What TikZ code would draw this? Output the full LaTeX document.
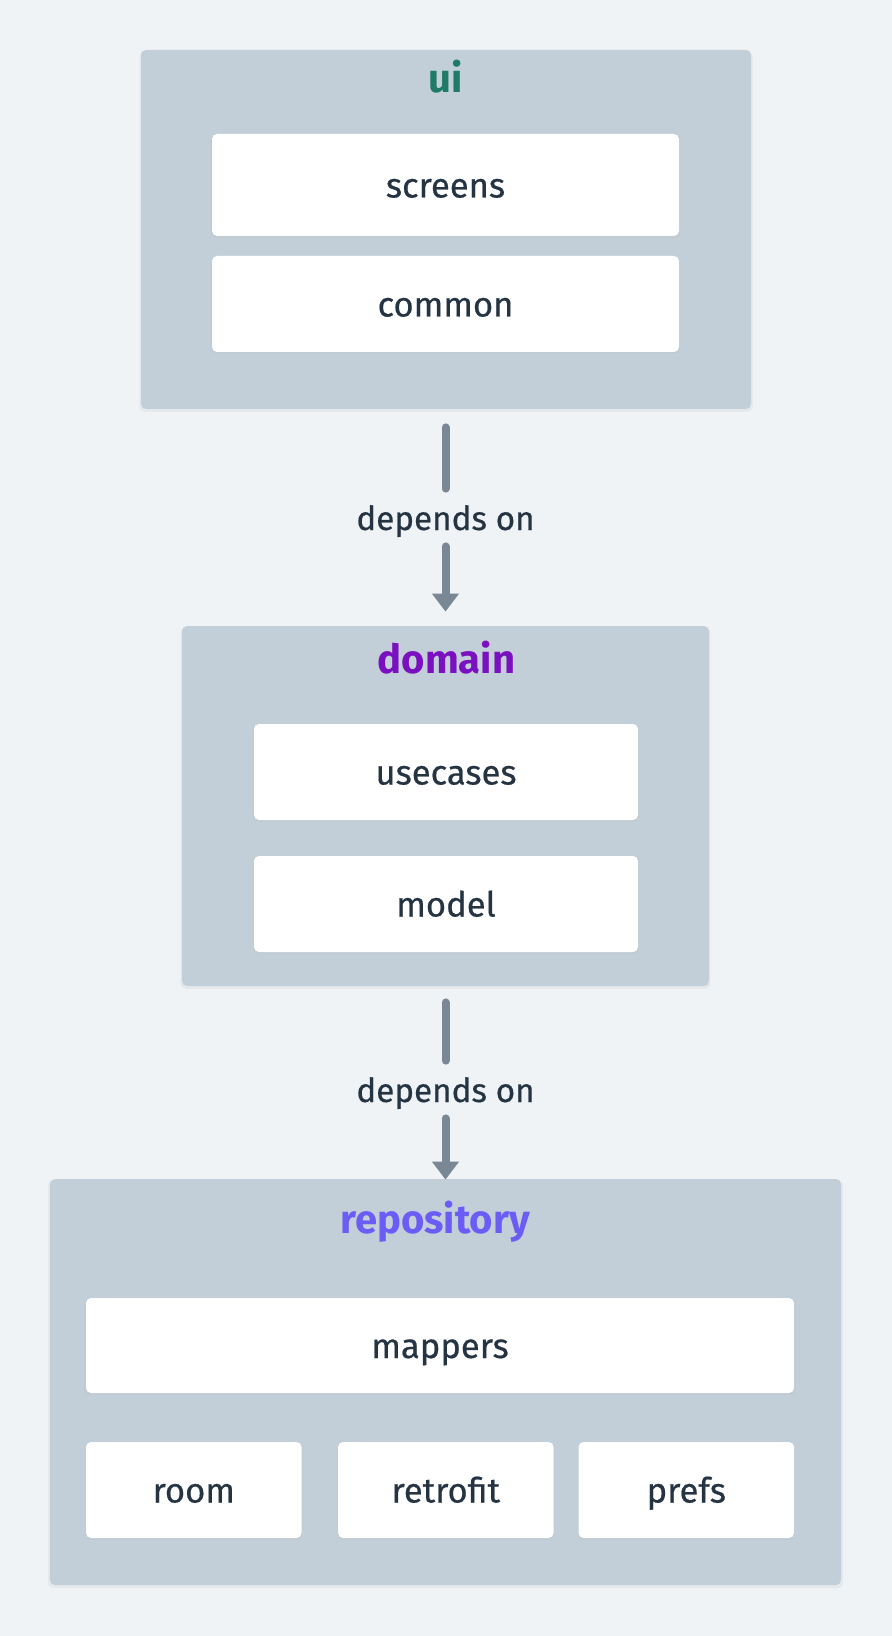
\documentclass[tikz,border=0pt]{standalone}
\usepackage{fontspec}
\setmainfont{Fira Sans}
\newfontfamily\medfont{Fira Sans}[FakeBold=0.5]
\usetikzlibrary{arrows.meta,shadows}
\definecolor{bgc}{HTML}{EFF3F6}
\definecolor{boxc}{HTML}{C3CFD8}
\definecolor{txtc}{HTML}{253443}
\definecolor{arrowc}{HTML}{7A8896}
\definecolor{uic}{HTML}{1F7A67}
\definecolor{domc}{HTML}{7B10C0}
\definecolor{repc}{HTML}{6B5CF5}
\begin{document}
\begin{tikzpicture}[x=0.5pt,y=-0.5pt,
  layerbox/.style={fill=boxc, rounded corners=2.5pt, inner sep=0pt, draw=none,
    drop shadow={opacity=0.08, shadow xshift=0pt, shadow yshift=-1pt, shadow scale=1.005}},
  itembox/.style={fill=white, rounded corners=2.5pt, inner sep=0pt, text=txtc,
    font=\medfont\fontsize{17.3}{20}\selectfont, text height=16pt, text depth=3.5pt,
    drop shadow={opacity=0.05, shadow xshift=0pt, shadow yshift=-0.75pt, shadow scale=1.005}},
  ttl/.style={anchor=base, inner sep=0pt, font=\fontsize{20}{22}\selectfont\bfseries},
  lbl/.style={inner sep=0pt, text=txtc, font=\medfont\fontsize{16.6}{20}\selectfont,
    text height=16pt, text depth=3.5pt, minimum height=28.5pt},
  conn/.style={draw=arrowc, line width=4pt, line cap=round},
  tipped/.style={conn, -{Triangle[width=13pt,length=9pt]}}
]
\fill[bgc] (0,0) rectangle (892,1636);
\useasboundingbox (0,0) rectangle (892,1636);

% ui layer
\node[layerbox, minimum width=305pt, minimum height=179.5pt] (ui) at (446,229.5) {};
\node[ttl, text=uic] (uit) at (446,93) {ui};
\node[itembox, minimum width=233.5pt, minimum height=51pt] (screens) at (445.5,185) {screens};
\node[itembox, minimum width=233.5pt, minimum height=48pt] (common) at (445.5,304) {common};

% domain layer
\node[layerbox, minimum width=263.5pt, minimum height=180pt] (domain) at (445.5,806) {};
\node[ttl, text=domc] (domt) at (446.5,673) {domain};
\node[itembox, minimum width=192pt, minimum height=48pt] (usecases) at (446,772) {usecases};
\node[itembox, minimum width=192pt, minimum height=48pt] (model) at (446,904) {model};

% repository layer
\node[layerbox, minimum width=395.5pt, minimum height=203pt] (repo) at (445.5,1382) {};
\node[ttl, text=repc] (rept) at (435,1233) {repository};
\node[itembox, minimum width=354pt, minimum height=47.5pt] (mappers) at (440,1345.5) {mappers};
\node[itembox, minimum width=107.75pt, minimum height=48pt] (room) at (193.75,1490) {room};
\node[itembox, minimum width=107.75pt, minimum height=48pt] (retrofit) at (445.8,1490) {retrofit};
\node[itembox, minimum width=107.75pt, minimum height=48pt] (prefs) at (686.3,1490) {prefs};

% connectors
\node[lbl] (l1) at (445.5,517.5) {depends on};
\node[lbl] (l2) at (445.5,1089.5) {depends on};
\draw[conn, shorten <=9pt] (ui.south -| l1) -- (l1.north);
\draw[tipped, shorten >=7pt] (l1.south) -- (domain.north -| l1);
\draw[conn, shorten <=8pt] (domain.south -| l2) -- (l2.north);
\draw[tipped, shorten >=-0.5pt] (l2.south) -- (repo.north -| l2);
\end{tikzpicture}
\end{document}
